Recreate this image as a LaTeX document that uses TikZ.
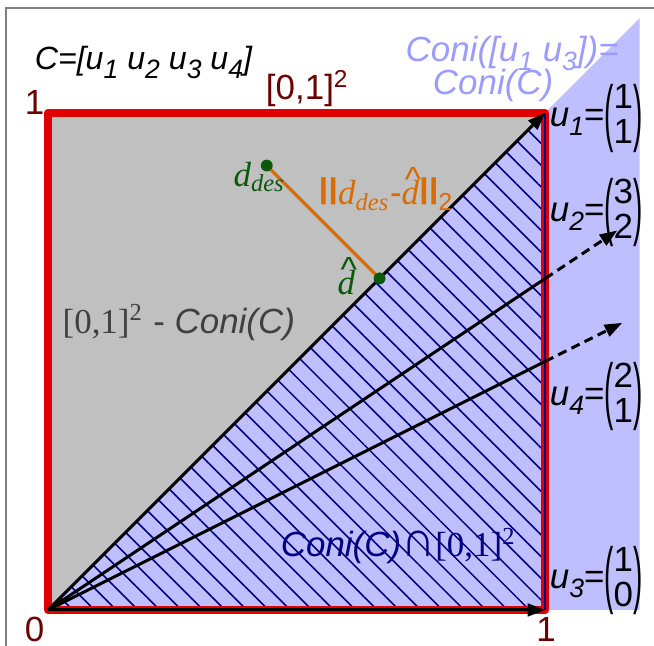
\documentclass[tikz,border=0pt]{standalone}
\usepackage{fontspec}
\usepackage{graphicx}
\setmainfont{Liberation Sans}
\newfontfamily\serif{Liberation Serif}
\usetikzlibrary{arrows.meta,patterns.meta}
\definecolor{Frame}{HTML}{808080}
\definecolor{Square}{HTML}{C0C0C0}
\definecolor{Cone}{HTML}{BFBFFF}
\definecolor{Edge}{HTML}{E00000}
\definecolor{Navy}{HTML}{000080}
\definecolor{Lilac}{HTML}{9C9CFF}
\definecolor{Maroon}{HTML}{6B0000}
\definecolor{Slate}{HTML}{404040}
\definecolor{Forest}{HTML}{0A5A0A}
\definecolor{Amber}{HTML}{D96B00}
\newcommand{\paren}[1]{\raisebox{-3pt}{\scalebox{0.8}[2.1]{#1}}}
\newcommand{\colvec}[2]{\paren{(}\begin{tabular}{@{}c@{}}#1\\[-2pt]#2\end{tabular}\paren{)}}
\newcommand{\lo}[1]{\raisebox{-2.6pt}{\fontsize{7.6}{9}\selectfont#1}}
\newcommand{\dhat}{\makebox[0pt][l]{\hspace{0.9pt}\raisebox{3.9pt}{\textasciicircum}}{\serif\itshape d}}
\newcommand{\ddes}{{\serif\itshape d\textsubscript{des}}}
\newcommand{\bars}{\raisebox{1.8pt}{\scalebox{1}[0.82]{\textbf{||}}}}

\begin{document}
\begin{tikzpicture}[x=5cm,y=5cm,font=\fontsize{10}{12}\selectfont,
        vec/.style={line width=0.85pt,-{Triangle[length=5pt,width=3.6pt]}},
        ext/.style={line width=0.85pt,dash pattern=on 2.6pt off 1.6pt,-{Triangle[length=5pt,width=3.6pt]}},
        lab/.style={inner sep=0pt,anchor=base west},
        dot/.style={circle,fill=Forest,inner sep=0pt,minimum size=3.4pt}]
        \useasboundingbox (-0.0966,-0.0724) rectangle (1.219,1.227);
        \draw[Frame,line width=0.4pt] (-0.0845,-0.0724) -- (-0.0845,1.211) -- (1.219,1.211);
        \coordinate (O) at (0,0);
        \coordinate (u1) at (1,1);
        \coordinate (u3) at (1,0);
        \coordinate (u2x) at (1,0.6667);
        \coordinate (u2) at (1.145,0.7633);
        \coordinate (u4x) at (1,0.5);
        \coordinate (u4) at (1.155,0.5775);
        \coordinate (des) at (0.44,0.894);
        \coordinate (proj) at (0.667,0.667);
        % regions
        \fill[Square] (O) rectangle (u1);
        \fill[Cone] (O) -- (1.19,1.19) -- (1.19,0) -- cycle;
        \fill[pattern={Lines[angle=-45,distance=4.4pt,line width=0.45pt]},pattern color=Navy] (O) -- (u3) -- (u1) -- cycle;
        \draw[Edge,line width=2.4pt,line join=round] (O) rectangle (u1);
        \draw[Navy,line width=0.6pt] (u3) -- (u1);
        % generators
        \draw[vec] (O) -- (u1);
        \draw[vec] (O) -- (u3);
        \draw[line width=0.85pt] (O) -- (u2x);
        \draw[ext] (u2x) -- (u2);
        \draw[line width=0.85pt] (O) -- (u4x);
        \draw[ext] (u4x) -- (u4);
        % projection
        \draw[Amber,line width=0.9pt] (des) -- (proj);
        \node[dot] (desdot) at (des) {};
        \node[dot] (projdot) at (proj) {};
        \node[Forest,inner sep=0pt,anchor=north west] (deslab) at (0.372,0.903) {\ddes};
        \node[Forest,lab] (projlab) at (0.581,0.634) {\dhat};
        \node[Amber,lab] (norm) at (0.543,0.815) {\bars\ddes-\dhat\bars\textsubscript{2}};
        % labels
        \node[lab,font=\fontsize{9.2}{11}\selectfont] (gens) at (-0.028,1.087) {\textit{C=[u\lo{1} u\lo{2} u\lo{3} u\lo{4}]}};
        \node[Maroon,lab] (box) at (0.437,1.026) {[0,1]\textsuperscript{2}};
        \node[Maroon,inner sep=0pt,anchor=base east] (one) at (-0.006,0.997) {1};
        \node[Maroon,inner sep=0pt,anchor=base east] (zero) at (-0.006,-0.064) {0};
        \node[Maroon,inner sep=0pt,anchor=base] (onex) at (1.002,-0.064) {1};
        \node[Lilac,lab] (coni1) at (0.718,1.103) {\textit{Coni([u\lo{1} u\lo{3}])=}};
        \node[Lilac,lab] (coni2) at (0.773,1.036) {\textit{Coni(C)}};
        \node[anchor=west,inner sep=0pt] (lu1) at (1.008,0.99) {\textit{u\lo{1}}=\colvec{1}{1}};
        \node[anchor=west,inner sep=0pt] (lu2) at (1.008,0.80) {\textit{u\lo{2}}=\colvec{3}{2}};
        \node[anchor=west,inner sep=0pt] (lu4) at (1.008,0.429) {\textit{u\lo{4}}=\colvec{2}{1}};
        \node[anchor=west,inner sep=0pt] (lu3) at (1.008,0.06) {\textit{u\lo{3}}=\colvec{1}{0}};
        \node[Slate,lab] (rest) at (0.028,0.557) {{\serif[0,1]\textsuperscript{2}} - \textit{Coni(C)}};
        \node[Navy,lab] (meet) at (0.467,0.107) {\textit{Coni(C)}{\serif\scalebox{1.35}[1.45]{∩}[0,1]\textsuperscript{2}}};
      \end{tikzpicture}
\end{document}
